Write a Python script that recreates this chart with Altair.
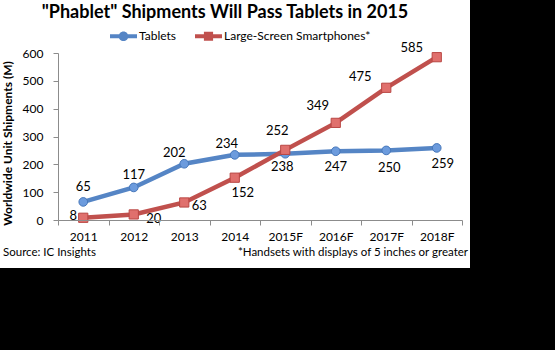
import altair as alt
import pandas as pd

# ---- data ----
years = ["2011", "2012", "2013", "2014", "2015F", "2016F", "2017F", "2018F"]
tablets = [65, 117, 202, 234, 238, 247, 250, 259]
phablets = [8, 20, 63, 152, 252, 349, 475, 585]
series_names = ["Tablets", "Large-Screen Smartphones*"]
y_ticks = [0, 100, 200, 300, 400, 500, 600]
title_text = '"Phablet" Shipments Will Pass Tablets in 2015'
y_title = "Worldwide Unit Shipments (M)"
source_text = "Source: IC Insights"
note_text = "*Handsets with displays of 5 inches or greater"

df = pd.DataFrame({
    "year": years * 2,
    "value": tablets + phablets,
    "series": [series_names[0]] * len(years) + [series_names[1]] * len(years),
})

# ---- styling ----
FONT = "Lato"
BLUE_LINE = "#5585C5"
RED_LINE = "#C0504D"
BLUE_FILL = "#6C9BDD"
BLUE_STROKE = "#4677BA"
RED_FILL = "#E0706D"
RED_STROKE = "#B94744"
AXIS_GRAY = "#8C8C8C"
W, H = 404, 167
PAD = {"left": 58, "top": 53, "right": 555 - 58 - W, "bottom": 350 - 53 - H}

# label offsets relative to each point (dx, dy)
label_offsets = {
    series_names[0]: {"2011": (0, -15), "2012": (0, -12), "2013": (-10, -11), "2014": (-8, -11),
                      "2015F": (-3, 13), "2016F": (0, 16), "2017F": (3, 18), "2018F": (6, 16)},
    series_names[1]: {"2011": (-10, -2), "2012": (20, 5), "2013": (15, 4), "2014": (8, 15),
                      "2015F": (-8, -19), "2016F": (-18, -17), "2017F": (-26, -11), "2018F": (-25, -9)},
}

x_enc = alt.X(
    "year:N", sort=years, bandPosition=0.5,
    scale=alt.Scale(type="band", domain=years, paddingInner=0, paddingOuter=0),
    axis=alt.Axis(title=None, labelAngle=0, labelFont=FONT, labelFontSize=12, labelColor="black",
                  domainColor=AXIS_GRAY, tickColor=AXIS_GRAY, tickSize=5, tickBand="extent",
                  labelPadding=6, zindex=1),
)
y_enc = alt.Y(
    "value:Q",
    scale=alt.Scale(domain=[0, 600], nice=False),
    axis=alt.Axis(values=y_ticks, title=y_title, grid=False, labelFont=FONT, labelFontSize=12,
                  labelColor="black", domainColor=AXIS_GRAY, tickColor=AXIS_GRAY, tickSize=5,
                  labelPadding=10, titleFont=FONT, titleFontSize=12, titleFontWeight="bold",
                  titleColor="black", titleX=-47, titleY=90, titleBaseline="alphabetic",
                  titleAngle=270, zindex=1),
)

base = alt.Chart(df)

# white panel behind the chart (decoration)
panel = alt.Chart(df).mark_rect(color="white").encode(
    x=alt.value(-58), x2=alt.value(412), y=alt.value(-53), y2=alt.value(215)
)

layers = [panel]
styles = [
    (series_names[0], BLUE_LINE, "circle", BLUE_FILL, BLUE_STROKE, 75),
    (series_names[1], RED_LINE, "square", RED_FILL, RED_STROKE, 85),
]
for name, lc, shape, fc, sc, size in styles:
    sub = base.transform_filter(alt.datum.series == name)
    layers.append(sub.mark_line(color=lc, strokeWidth=4.5).encode(x=x_enc, y=y_enc))
    layers.append(sub.mark_point(shape=shape, filled=True, fill=fc, stroke=sc, strokeWidth=1,
                                 opacity=1, size=size).encode(x=x_enc, y=y_enc))

for name, _, _, _, _, _ in styles:
    for yr, (dx, dy) in label_offsets[name].items():
        layers.append(
            base.transform_filter((alt.datum.series == name) & (alt.datum.year == yr))
            .mark_text(font=FONT, fontSize=13, color="black", dx=dx, dy=dy,
                       align="center", baseline="middle")
            .encode(x=x_enc, y=y_enc, text="value:Q")
        )

# legend via a hidden layer
circle_path = "M-1,-0.15H1V0.15H-1Z M0.36,0A0.36,0.36,0,1,1,-0.36,0A0.36,0.36,0,1,1,0.36,0Z"
square_path = "M-1,-0.15H1V0.15H-1Z M-0.34,-0.34H0.34V0.34H-0.34Z"
legend_kw = dict(title=None, orient="none", legendX=52, legendY=-30.5, direction="horizontal",
                 symbolSize=729, symbolOpacity=1, symbolStrokeWidth=0, labelFont=FONT,
                 labelFontSize=12, labelColor="black", labelOffset=2, columnPadding=18,
                 labelLimit=300, padding=0)
legend_layer = base.mark_point(filled=True, opacity=0).encode(
    x=x_enc, y=y_enc,
    color=alt.Color("series:N", scale=alt.Scale(domain=series_names, range=[BLUE_LINE, RED_LINE]),
                    legend=alt.Legend(**legend_kw)),
    shape=alt.Shape("series:N", scale=alt.Scale(domain=series_names, range=[circle_path, square_path]),
                    legend=alt.Legend(**legend_kw)),
)
layers.append(legend_layer)

# title and footer text annotations
title_mark = alt.Chart(pd.DataFrame({"t": [title_text]})).mark_text(
    font=FONT, fontSize=18, fontWeight="bold", color="black", align="center", baseline="alphabetic"
).encode(text="t:N", x=alt.value(167), y=alt.value(-35))
source_mark = alt.Chart(pd.DataFrame({"t": [source_text]})).mark_text(
    font=FONT, fontSize=11.5, color="black", align="left", baseline="alphabetic"
).encode(text="t:N", x=alt.value(-55), y=alt.value(203))
note_mark = alt.Chart(pd.DataFrame({"t": [note_text]})).mark_text(
    font=FONT, fontSize=11.5, color="black", align="right", baseline="alphabetic"
).encode(text="t:N", x=alt.value(410), y=alt.value(203))
layers += [title_mark, source_mark, note_mark]

chart = alt.layer(*layers).properties(
    width=W, height=H, background="black", padding=PAD,
    autosize=alt.AutoSizeParams(type="none"),
).configure_view(strokeWidth=0)

chart.save("out.html", embed_options={"renderer": "svg", "actions": False})
